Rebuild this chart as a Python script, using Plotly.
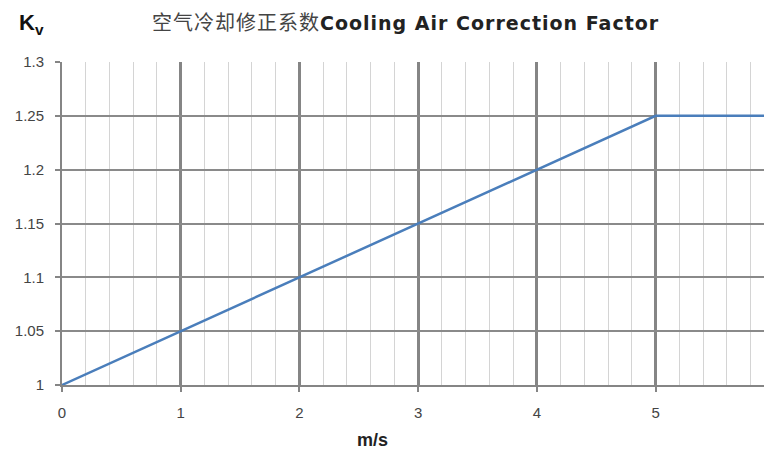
import plotly.graph_objects as go

speed = [0, 1, 2, 3, 4, 5, 6]
kv = [1.0, 1.05, 1.10, 1.15, 1.20, 1.25, 1.25]
x_ticks = [0, 1, 2, 3, 4, 5, 6]
y_ticks = [1, 1.05, 1.1, 1.15, 1.2, 1.25, 1.3]
y_tick_text = ["1", "1.05", "1.1", "1.15", "1.2", "1.25", "1.3"]

# page body has an 8px margin: figure is laid out in page coords minus 8
W, H = 764, 442
L, T, B = 54, 54, 65
PW, PH = W - L, H - T - B


def px(xp):
    return (xp - 8 - L) / PW


def py(yp):
    return 1 - (yp - 8 - T) / PH


fig = go.Figure()
fig.add_trace(go.Scatter(x=speed, y=kv, mode="lines",
                         line=dict(color="#4a7ebb", width=2.5),
                         showlegend=False, cliponaxis=False))

fig.update_layout(
    width=W, height=H,
    margin=dict(l=L, r=0, t=T, b=B),
    plot_bgcolor="white", paper_bgcolor="white",
    font=dict(family="Liberation Sans, Arial, sans-serif", color="#444"),
    xaxis=dict(range=[0, 5.98], tickvals=x_ticks, ticktext=[str(v) for v in x_ticks],
               showgrid=True, gridcolor="#858585", gridwidth=2.5,
               minor=dict(dtick=0.2, tick0=0, showgrid=True, gridcolor="#d4d4d4", gridwidth=1),
               showline=True, linecolor="#858585", linewidth=2,
               ticks="outside", ticklen=5, tickwidth=2, tickcolor="#858585",
               ticklabelstandoff=8,
               tickfont=dict(size=15, color="#444"), zeroline=False),
    yaxis=dict(range=[1.0, 1.3], tickvals=y_ticks, ticktext=y_tick_text,
               showgrid=True, gridcolor="#8a8a8a", gridwidth=2,
               showline=True, linecolor="#858585", linewidth=2,
               ticks="outside", ticklen=5, tickwidth=2, tickcolor="#858585",
               ticklabelstandoff=8,
               tickfont=dict(size=15, color="#444"), zeroline=False),
)

fig.add_annotation(text="<span style='font-family:Noto Sans CJK SC;font-size:20px;color:#444;letter-spacing:1px'>空气冷却修正系数</span><b style='font-family:DejaVu Sans;font-size:19px;color:#222;letter-spacing:1px'>Cooling Air Correction Factor</b>",
                   xref="paper", yref="paper", x=px(405), y=py(22),
                   showarrow=False, xanchor="center", yanchor="middle")
fig.add_annotation(text="<b>K<sub>v</sub></b>", xref="paper", yref="paper",
                   x=px(31), y=py(24), showarrow=False,
                   xanchor="center", yanchor="middle",
                   font=dict(size=22, color="#111", family="Liberation Sans, Arial, sans-serif"))
fig.add_annotation(text="<b>m/s</b>", xref="paper", yref="paper",
                   x=px(372), y=py(440), showarrow=False,
                   xanchor="center", yanchor="middle",
                   font=dict(size=18, color="#222", family="Liberation Sans, Arial, sans-serif"))
fig.add_annotation(text=str(x_ticks[-1]), xref="paper", yref="paper", x=px(773), y=py(413),
                   showarrow=False, xanchor="center", yanchor="middle",
                   font=dict(size=15, color="#444"))

fig.write_html("out.html")
